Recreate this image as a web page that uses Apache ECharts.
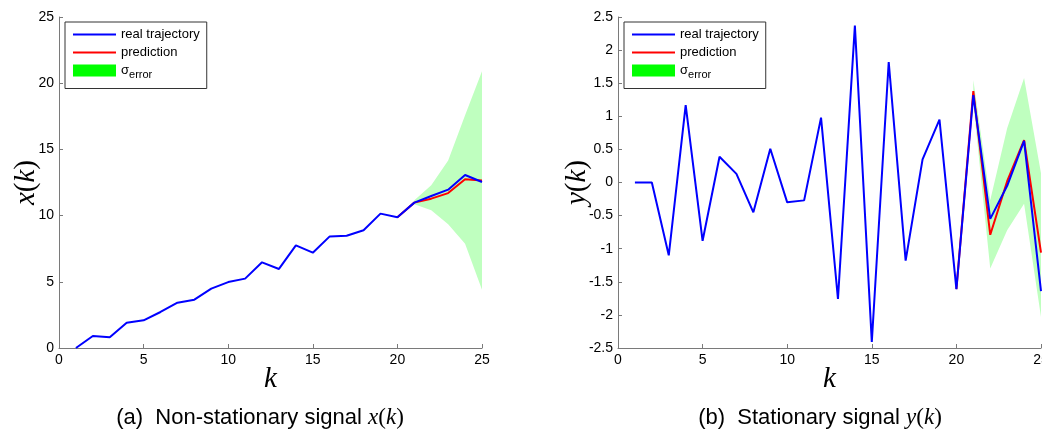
<!DOCTYPE html>
<html><head><meta charset="utf-8">
<script src="https://cdn.jsdelivr.net/npm/echarts@6/dist/echarts.min.js"></script>
<style>html,body{margin:0;padding:0;background:#fff}#c{width:1042px;height:434px}</style>
</head><body><div id="c"></div>
<script>
// ---- data ----
const kAll = [1,2,3,4,5,6,7,8,9,10,11,12,13,14,15,16,17,18,19,20,21,22,23,24,25];
const kPred = [20,21,22,23,24,25];
const kBand = [21,22,23,24,25];
const xReal = [0,0.91,0.81,1.91,2.09,2.72,3.42,3.65,4.48,4.98,5.24,6.47,5.97,7.75,7.2,8.43,8.48,8.89,10.15,9.87,10.98,11.48,11.96,13.07,12.54];
const xPred = [9.87,10.98,11.28,11.7,12.74,12.66];
const xBandUpper = [11.15,12.29,14.17,17.57,20.9];
const xBandLower = [10.85,10.4,9.34,7.88,4.4];
const yReal = [0,0,-1.10,1.17,-0.88,0.39,0.13,-0.45,0.51,-0.30,-0.27,0.98,-1.76,2.37,-2.41,1.82,-1.18,0.35,0.95,-1.61,1.32,-0.55,-0.05,0.63,-1.64];
const yPred = [-1.61,1.38,-0.79,0.02,0.64,-1.06];
const yBandUpper = [1.55,-0.27,0.82,1.58,0.14];
const yBandLower = [1.2,-1.30,-0.72,-0.32,-2.03];

const pairs = (ks, vs) => ks.map((k,i)=>[k, vs[i]]);
const SANS = '"Liberation Sans", Arial, sans-serif';
const SERIF = '"Liberation Serif", "DejaVu Serif", serif';
const axisGray = '#7a7a7a';
const LINE_ICON = 'path://M0,0H43V2H0Z';

function bandSeries(idx, up, lo) {
  return {
    type: 'custom', name: 'sigma', xAxisIndex: idx, yAxisIndex: idx, z: 1,
    data: [[kBand[0], up[0]]],
    renderItem: function (params, api) {
      const pts = [];
      kBand.forEach((k,i)=>pts.push(api.coord([k, up[i]])));
      for (let i = kBand.length-1; i >= 0; i--) pts.push(api.coord([kBand[i], lo[i]]));
      return { type: 'polygon', shape: { points: pts }, style: { fill: '#bfffbf', stroke: null } };
    }
  };
}
function lineSeries(idx, name, data, color, z) {
  return { type: 'line', name: name, xAxisIndex: idx, yAxisIndex: idx, data: data,
    symbol: 'none', showSymbol: false, z: z, lineStyle: { color: color, width: 2 }, itemStyle: { color: color }, animation: false };
}
function xAxisCfg(idx) {
  return { type: 'value', gridIndex: idx, min: 0, max: 25, interval: 5,
    axisLine: { onZero: false, lineStyle: { color: axisGray, width: 1 } },
    axisTick: { inside: true, length: 4, lineStyle: { color: axisGray } },
    splitLine: { show: false },
    axisLabel: { color: '#000', fontFamily: SANS, fontSize: 14, margin: 5 },
    name: '{i|k}', nameLocation: 'middle', nameGap: 17, nameMoveOverlap: false,
    nameTextStyle: { rich: { i: { fontFamily: SERIF, fontStyle: 'italic', fontSize: 29, color: '#000' } } }
  };
}
function yAxisCfg(idx, min, max, interval, letter, gap) {
  return { type: 'value', gridIndex: idx, min: min, max: max, interval: interval,
    axisLine: { show: true, onZero: false, lineStyle: { color: axisGray, width: 1 } },
    axisTick: { show: true, inside: true, length: 4, lineStyle: { color: axisGray } },
    splitLine: { show: false },
    axisLabel: { color: '#000', fontFamily: SANS, fontSize: 14, margin: 5 },
    name: '{i|' + letter + '}{u|(}{i|k}{u|)}', nameLocation: 'middle', nameGap: gap, nameRotate: 90,
    nameMoveOverlap: false,
    nameTextStyle: { rich: {
      i: { fontFamily: SERIF, fontStyle: 'italic', fontSize: 29, color: '#000' },
      u: { fontFamily: SERIF, fontSize: 29, color: '#000' } } }
  };
}
function legendCfg(left) {
  return { orient: 'vertical', left: left, top: 22, padding: [6, 7, 8, 8], itemGap: 5,
    itemWidth: 43, itemHeight: 12, backgroundColor: '#fff', borderColor: '#333', borderWidth: 1,
    selectedMode: false, symbolKeepAspect: true,
    data: [ { name: 'real trajectory', icon: LINE_ICON }, { name: 'prediction', icon: LINE_ICON },
            { name: 'sigma', icon: 'rect', itemStyle: { color: '#00ff00' } } ],
    formatter: function (n) { return n === 'sigma' ? '{s|σ}{sub|error}' : n; },
    textStyle: { fontFamily: SANS, fontSize: 13, color: '#000', padding: [0,0,0,0],
      rich: { s: { fontFamily: SANS, fontSize: 13, color: '#000' },
              sub: { fontFamily: SANS, fontSize: 11, color: '#000', padding: [9, 0, 0, 0] } } }
  };
}

const chart = echarts.init(document.getElementById('c'));
chart.setOption({
  animation: false,
  grid: [
    { left: 59, top: 17, width: 423, height: 331, outerBoundsMode: 'none', containLabel: false },
    { left: 618, top: 17, width: 423, height: 331, outerBoundsMode: 'none', containLabel: false }
  ],
  xAxis: [xAxisCfg(0), xAxisCfg(1)],
  yAxis: [yAxisCfg(0, 0, 25, 5, 'x', 18), yAxisCfg(1, -2.5, 2.5, 0.5, 'y', 26)],
  legend: [legendCfg(65), legendCfg(624)],
  series: [
    bandSeries(0, xBandUpper, xBandLower),
    lineSeries(0, 'prediction', pairs(kPred, xPred), '#ff0000', 2),
    lineSeries(0, 'real trajectory', pairs(kAll, xReal), '#0000ff', 3),
    bandSeries(1, yBandUpper, yBandLower),
    lineSeries(1, 'prediction', pairs(kPred, yPred), '#ff0000', 2),
    lineSeries(1, 'real trajectory', pairs(kAll, yReal), '#0000ff', 3)
  ],
  graphic: [
    { type: 'text', x: 260, y: 418, style: {
        text: '{n|(a)  Non-stationary signal }{i|x}{u|(}{i|k}{u|)}', align: 'center', verticalAlign: 'middle',
        rich: { n: { fontFamily: SANS, fontSize: 22, fill: '#000' },
                i: { fontFamily: SERIF, fontStyle: 'italic', fontSize: 23, fill: '#000' },
                u: { fontFamily: SERIF, fontSize: 23, fill: '#000' } } } },
    { type: 'text', x: 820, y: 418, style: {
        text: '{n|(b)  Stationary signal }{i|y}{u|(}{i|k}{u|)}', align: 'center', verticalAlign: 'middle',
        rich: { n: { fontFamily: SANS, fontSize: 22, fill: '#000' },
                i: { fontFamily: SERIF, fontStyle: 'italic', fontSize: 23, fill: '#000' },
                u: { fontFamily: SERIF, fontSize: 23, fill: '#000' } } } }
  ]
});
</script></body></html>
